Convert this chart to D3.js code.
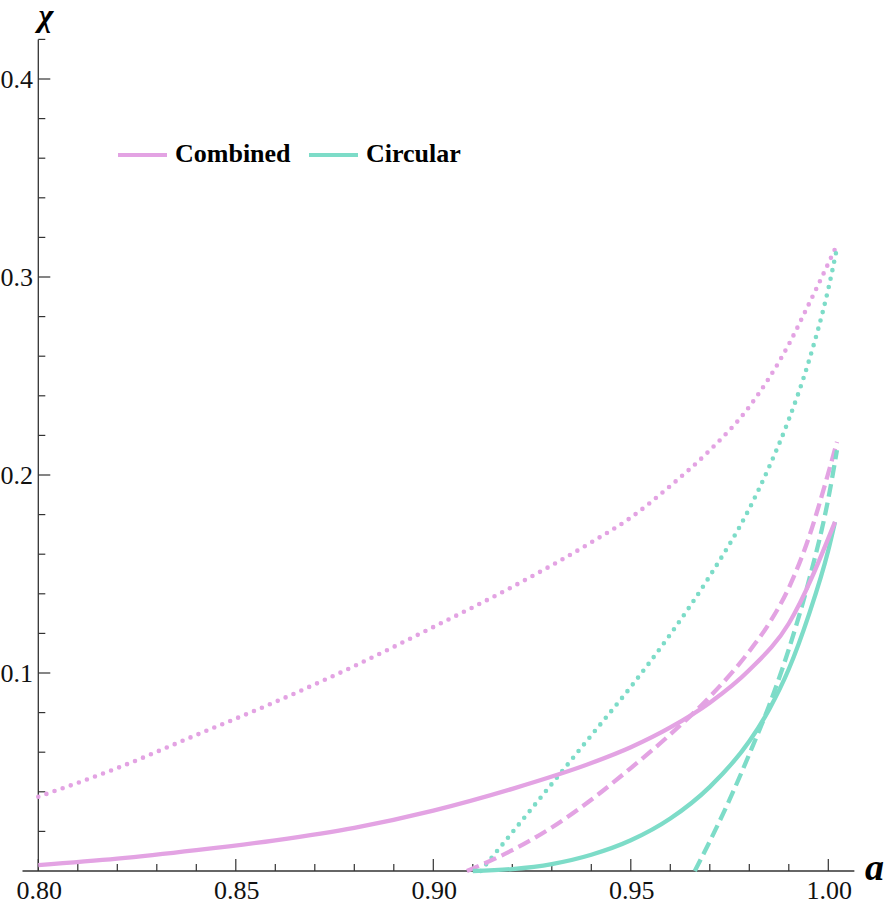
<!DOCTYPE html>
<html>
<head>
<meta charset="utf-8">
<script src="https://cdn.jsdelivr.net/npm/d3@7"></script>
<style>
  body { margin: 0; background: #fff; }
  text { font-family: "Liberation Serif", "Times New Roman", serif; }
</style>
</head>
<body>
<div id="chart"></div>
<script>
// values
const combinedSolidA   = [0.800, 0.820, 0.840, 0.860, 0.880, 0.900, 0.920, 0.940, 0.950, 0.960, 0.970, 0.980, 0.990, 1.0017];
const combinedSolidChi = [0.0030, 0.0062, 0.0105, 0.0155, 0.0218, 0.0305, 0.0415, 0.0545, 0.0625, 0.0725, 0.0850, 0.1015, 0.1250, 0.1763];

const combinedDashA   = [0.9085, 0.920, 0.930, 0.940, 0.950, 0.960, 0.970, 0.980, 0.985, 0.990, 0.995, 1.000, 1.0022];
const combinedDashChi = [0.0, 0.0105, 0.0220, 0.0360, 0.0520, 0.0690, 0.0880, 0.1110, 0.1250, 0.1430, 0.1680, 0.2010, 0.2167];

const combinedDotA   = [0.800, 0.820, 0.840, 0.860, 0.880, 0.900, 0.920, 0.940, 0.950, 0.960, 0.970, 0.980, 0.990, 0.995, 1.0022];
const combinedDotChi = [0.0375, 0.0520, 0.0687, 0.0854, 0.1035, 0.1232, 0.1435, 0.1660, 0.1785, 0.1945, 0.2125, 0.2345, 0.2660, 0.2860, 0.3162];

const circularSolidA   = [0.910, 0.920, 0.930, 0.940, 0.950, 0.960, 0.970, 0.980, 0.985, 0.990, 0.995, 1.000, 1.0017];
const circularSolidChi = [0.0, 0.0010, 0.0035, 0.0082, 0.0155, 0.0265, 0.0425, 0.0655, 0.0815, 0.1020, 0.1290, 0.1620, 0.1763];

const circularDashA   = [0.9662, 0.970, 0.975, 0.980, 0.985, 0.990, 0.995, 1.000, 1.0022];
const circularDashChi = [0.0, 0.0150, 0.0360, 0.0590, 0.0835, 0.1120, 0.1460, 0.1880, 0.2126];

const circularDotA   = [0.912, 0.920, 0.930, 0.940, 0.950, 0.960, 0.970, 0.980, 0.985, 0.990, 0.995, 1.000, 1.0022];
const circularDotChi = [0.0, 0.0195, 0.0440, 0.0685, 0.0930, 0.1195, 0.1490, 0.1830, 0.2040, 0.2280, 0.2570, 0.2940, 0.3146];

const xMajor = [0.80, 0.85, 0.90, 0.95, 1.00];
const xMajorLabels = ["0.80", "0.85", "0.90", "0.95", "1.00"];
const yMajor = [0.1, 0.2, 0.3, 0.4];
const yMajorLabels = ["0.1", "0.2", "0.3", "0.4"];

const legendNames = ["Combined", "Circular"];

const pink = "#e3a3e3";
const teal = "#7ddcc8";
const serif = "'Liberation Serif', 'Times New Roman', serif";

const width = 889;
const height = 906;

const svg = d3.select("#chart")
  .append("svg")
  .attr("width", width)
  .attr("height", height);

const x = d3.scaleLinear()
  .domain([0.8, 1.0])
  .range([38.3, 828.3]);

const y = d3.scaleLinear()
  .domain([0, 0.4])
  .range([871, 79]);

const axisColor = "#333";

// axis lines
svg.append("line")
  .attr("x1", x(0.796)).attr("x2", x(1.0066))
  .attr("y1", y(0)).attr("y2", y(0))
  .attr("stroke", axisColor).attr("stroke-width", 1.3);

svg.append("line")
  .attr("x1", x(0.8)).attr("x2", x(0.8))
  .attr("y1", y(0)).attr("y2", y(0.42))
  .attr("stroke", axisColor).attr("stroke-width", 1.3);

// x ticks (point inward)
const xMinor = d3.range(81, 100).map(d => d / 100).filter(d => Math.round(d * 100) % 5 !== 0);
svg.append("g").selectAll("line")
  .data(xMinor)
  .join("line")
    .attr("x1", d => x(d)).attr("x2", d => x(d))
    .attr("y1", y(0)).attr("y2", y(0) - 7)
    .attr("stroke", axisColor).attr("stroke-width", 1.2);

svg.append("g").selectAll("line")
  .data(xMajor)
  .join("line")
    .attr("x1", d => x(d)).attr("x2", d => x(d))
    .attr("y1", y(0)).attr("y2", y(0) - 12)
    .attr("stroke", axisColor).attr("stroke-width", 1.2);

svg.append("g").selectAll("text")
  .data(xMajor)
  .join("text")
    .attr("x", d => x(d) + 1)
    .attr("y", 899)
    .attr("text-anchor", "middle")
    .attr("font-family", serif)
    .attr("font-size", "26px")
    .attr("fill", "#111")
    .text((d, i) => xMajorLabels[i]);

// y ticks
const yMinor = d3.range(1, 22).map(d => d * 0.02).filter(d => Math.round(d * 100) % 10 !== 0);
svg.append("g").selectAll("line")
  .data(yMinor)
  .join("line")
    .attr("x1", x(0.8)).attr("x2", x(0.8) + 7)
    .attr("y1", d => y(d)).attr("y2", d => y(d))
    .attr("stroke", axisColor).attr("stroke-width", 1.2);

svg.append("g").selectAll("line")
  .data(yMajor)
  .join("line")
    .attr("x1", x(0.8)).attr("x2", x(0.8) + 12)
    .attr("y1", d => y(d)).attr("y2", d => y(d))
    .attr("stroke", axisColor).attr("stroke-width", 1.2);

svg.append("g").selectAll("text")
  .data(yMajor)
  .join("text")
    .attr("x", 33)
    .attr("y", d => y(d) + 8.5)
    .attr("text-anchor", "end")
    .attr("font-family", serif)
    .attr("font-size", "26px")
    .attr("fill", "#111")
    .text((d, i) => yMajorLabels[i]);

// axis labels
svg.append("text")
  .attr("x", 46).attr("y", 26)
  .attr("text-anchor", "middle")
  .attr("font-family", serif)
  .attr("font-size", "32px")
  .attr("font-weight", "bold")
  .attr("font-style", "italic")
  .text("χ");

svg.append("text")
  .attr("x", 865).attr("y", 880)
  .attr("font-family", serif)
  .attr("font-size", "38px")
  .attr("font-weight", "bold")
  .attr("font-style", "italic")
  .text("a");

// curves
const line = d3.line()
  .x(d => x(d[0]))
  .y(d => y(d[1]))
  .curve(d3.curveMonotoneX);

const curves = [
  { a: combinedDotA, chi: combinedDotChi, color: pink, dash: "0,8.6" },
  { a: circularDotA, chi: circularDotChi, color: teal, dash: "0,8.6" },
  { a: combinedDashA, chi: combinedDashChi, color: pink, dash: "13,6" },
  { a: circularDashA, chi: circularDashChi, color: teal, dash: "13,6" },
  { a: circularSolidA, chi: circularSolidChi, color: teal, dash: null },
  { a: combinedSolidA, chi: combinedSolidChi, color: pink, dash: null }
];

svg.append("g")
  .selectAll("path")
  .data(curves)
  .join("path")
    .attr("fill", "none")
    .attr("stroke", d => d.color)
    .attr("stroke-width", d => d.dash && d.dash.startsWith("0") ? 4.6 : 4.3)
    .attr("stroke-linecap", d => d.dash && d.dash.startsWith("0") ? "round" : "butt")
    .attr("stroke-dasharray", d => d.dash)
    .attr("d", d => line(d.a.map((v, i) => [v, d.chi[i]])));

// legend
const legendX = [118, 309];
const legend = svg.append("g")
  .selectAll("g")
  .data(legendNames)
  .join("g")
    .attr("transform", (d, i) => `translate(${legendX[i]},155)`);

legend.append("line")
  .attr("x1", 0).attr("x2", 49)
  .attr("y1", 0).attr("y2", 0)
  .attr("stroke", (d, i) => i === 0 ? pink : teal)
  .attr("stroke-width", 4);

legend.append("text")
  .attr("x", 57).attr("y", 7)
  .attr("font-family", serif)
  .attr("font-size", "26px")
  .attr("font-weight", "bold")
  .text(d => d);
</script>
</body>
</html>
